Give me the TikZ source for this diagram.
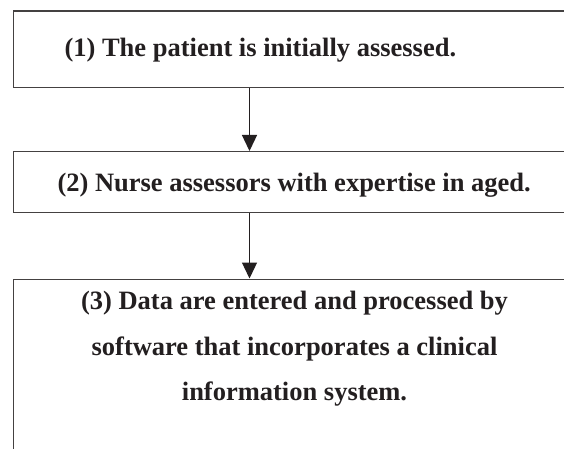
\documentclass[tikz,border=0pt]{standalone}
\usepackage{fontspec}
\setmainfont{Liberation Serif}
\usetikzlibrary{arrows.meta}
\definecolor{ink}{HTML}{231F20}
\tikzset{
  box/.style={draw=ink!85, line width=1.2pt, rectangle, anchor=north west, inner sep=0pt},
  lbl/.style={inner sep=0pt, text=ink, font=\fontsize{26.5}{30}\selectfont\bfseries},
  arr/.style={draw=ink, line width=1.3pt, -{Triangle[length=16pt,width=15pt]}}
}
\begin{document}
\begin{tikzpicture}[x=1pt,y=1pt]
\useasboundingbox (0,0) rectangle (564,-449);
\clip (0,0) rectangle (564,-449);
\fill[white] (0,0) rectangle (564,-449);
\node[box, minimum width=600pt, minimum height=76.5pt] (b1) at (12.5,-10.5) {};
\node[box, minimum width=600pt, minimum height=61pt] (b2) at (12.5,-151) {};
\node[box, minimum width=600pt, minimum height=250pt] (b3) at (12.5,-278.5) {};
\coordinate (ax) at (249.5,0);
\node[lbl, anchor=base west] (t1) at (64.3,-56.5) {(1) The patient is initially assessed.};
\node[lbl, anchor=base west] (t2) at (57.3,-191.7) {(2) Nurse assessors with expertise in aged.};
\node[lbl, anchor=base] (t3a) at (294.5,-309) {(3) Data are entered and processed by};
\node[lbl, anchor=base] (t3b) at (294.5,-355) {software that incorporates a clinical};
\node[lbl, anchor=base] (t3c) at (294.5,-400) {information system.};
\draw[arr] (b1.south -| ax) -- (b2.north -| ax);
\draw[arr] (b2.south -| ax) -- (b3.north -| ax);
\end{tikzpicture}
\end{document}
